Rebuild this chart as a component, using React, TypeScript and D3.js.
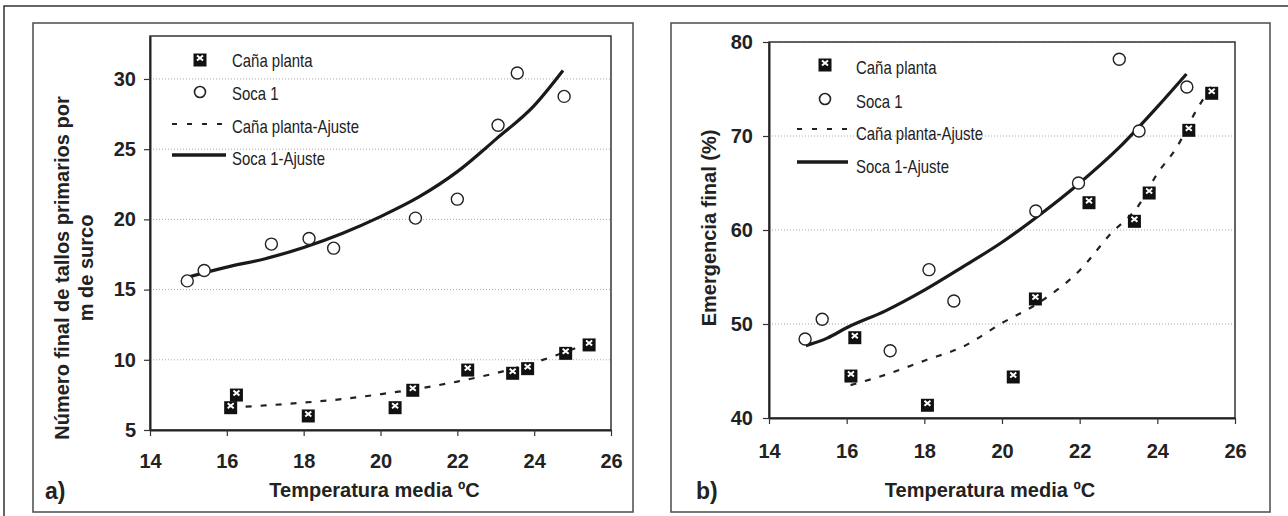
import React, { useEffect, useRef } from "react";
import * as d3 from "d3";

// a) primary stalks per metre of furrow
const caneTempA = [16.1, 16.25, 18.12, 20.38, 20.84, 22.27, 23.44, 23.83, 24.82, 25.43];
const caneStalks = [6.66, 7.56, 6.07, 6.66, 7.9, 9.34, 9.11, 9.44, 10.53, 11.13];
const socaTempA = [14.97, 15.41, 17.16, 18.14, 18.78, 20.91, 22.0, 23.06, 23.56, 24.78];
const socaStalks = [15.62, 16.36, 18.24, 18.64, 17.95, 20.09, 21.44, 26.7, 30.43, 28.76];
const caneFitTempA = [16.1, 17, 18, 19, 20, 21, 22, 23, 24, 25, 25.4];
const caneFitStalks = [6.6, 6.75, 6.95, 7.2, 7.55, 7.95, 8.45, 9.05, 9.8, 10.75, 11.2];
const socaFitTempA = [15, 16, 17, 18, 19, 20, 21, 22, 23, 24, 24.75];
const socaFitStalks = [15.9, 16.6, 17.2, 18.0, 19.0, 20.2, 21.6, 23.4, 25.7, 28.1, 30.6];

// b) final emergence (%)
const caneTempB = [16.21, 16.11, 18.08, 20.29, 20.86, 22.24, 23.41, 23.79, 24.81, 25.4];
const caneEmerg = [48.65, 44.57, 41.46, 44.47, 52.77, 63.01, 61.03, 64.04, 70.71, 74.65];
const socaTempB = [14.93, 15.37, 17.12, 18.12, 18.76, 20.87, 21.97, 23.02, 23.53, 24.76];
const socaEmerg = [48.4, 50.5, 47.16, 55.78, 52.45, 62.02, 65.0, 78.16, 70.53, 75.21];
const caneFitTempB = [16.1, 17, 18, 19, 20, 21, 22, 22.8, 23.5, 24, 24.5, 25, 25.4];
const caneFitEmerg = [43.5, 44.6, 46.1, 47.6, 50.1, 52.4, 55.7, 59.6, 62.5, 66.0, 68.8, 72.7, 75.3];
const socaFitTempB = [14.95, 15.5, 16, 17, 18, 19, 20, 21, 22, 23, 24, 24.75];
const socaFitEmerg = [47.7, 48.5, 49.6, 51.4, 53.6, 56.1, 58.7, 61.7, 65.0, 68.7, 73.1, 76.6];

const xTicks = [14, 16, 18, 20, 22, 24, 26];
const yTicksA = [5, 10, 15, 20, 25, 30];
const yTicksB = [40, 50, 60, 70, 80];
const legendLabels = ["Caña planta", "Soca 1", "Caña planta-Ajuste", "Soca 1-Ajuste"];

const FONT = "'Liberation Sans', Arial, sans-serif";

const zip = (a: number[], b: number[]) => a.map((v, i) => [v, b[i]] as [number, number]);

function drawSquare(g: any, cx: number, cy: number) {
  g.append("rect").attr("x", cx - 6.5).attr("y", cy - 5.5).attr("width", 13).attr("height", 13).attr("fill", "#111");
  g.append("path")
    .attr("d", `M${cx - 3},${cy - 3.5}L${cx + 3},${cy + 1.5}M${cx + 3},${cy - 3.5}L${cx - 3},${cy + 1.5}`)
    .attr("stroke", "#fff").attr("stroke-width", 2);
}

function drawPanel(svg: any, cfg: any) {
  const g = svg.append("g");
  const x = d3.scaleLinear().domain([14, 26]).range([cfg.left, cfg.right]);
  const y = d3.scaleLinear().domain(cfg.yDomain).range([cfg.bottom, cfg.top]);

  // panel box
  g.append("rect").attr("x", cfg.box[0]).attr("y", cfg.box[1]).attr("width", cfg.box[2] - cfg.box[0]).attr("height", cfg.box[3] - cfg.box[1])
    .attr("fill", "none").attr("stroke", "#555").attr("stroke-width", 1.6);

  // grid
  g.selectAll(".grid").data(cfg.yTicks.slice(1)).join("line")
    .attr("x1", cfg.left).attr("x2", cfg.right).attr("y1", (d: number) => y(d)).attr("y2", (d: number) => y(d))
    .attr("stroke", "#aaa").attr("stroke-width", 1).attr("stroke-dasharray", "1,2");

  // plot frame
  g.append("rect").attr("x", cfg.left).attr("y", cfg.top).attr("width", cfg.right - cfg.left).attr("height", cfg.bottom - cfg.top)
    .attr("fill", "none").attr("stroke", "#333").attr("stroke-width", 1.5);

  const xAxis = g.append("g").attr("transform", `translate(0,${cfg.bottom})`)
    .call(d3.axisBottom(x).tickValues(xTicks).tickSize(6).tickPadding(cfg.xPad).tickSizeOuter(0));
  const yAxis = g.append("g").attr("transform", `translate(${cfg.left},0)`)
    .call(d3.axisLeft(y).tickValues(cfg.yTicks).tickSize(6).tickPadding(cfg.yPad).tickSizeOuter(0));
  [xAxis, yAxis].forEach((a: any) => {
    a.select(".domain").attr("stroke", "#222").attr("stroke-width", 2);
    a.selectAll(".tick line").attr("stroke", "#333").attr("stroke-width", 1.2);
    a.selectAll(".tick text").attr("fill", "#222").style("font-family", FONT).style("font-weight", "bold").style("font-size", "20px");
  });

  // fit lines
  const line = d3.line().x((d: any) => x(d[0])).y((d: any) => y(d[1])).curve(d3.curveMonotoneX);
  g.append("path").attr("d", line(cfg.caneFit)).attr("fill", "none").attr("stroke", "#222")
    .attr("stroke-width", 2.2).attr("stroke-dasharray", "6,9");
  g.append("path").attr("d", line(cfg.socaFit)).attr("fill", "none").attr("stroke", "#1a1a1a").attr("stroke-width", 3.2);

  // points
  cfg.soca.forEach((d: [number, number]) => {
    g.append("circle").attr("cx", x(d[0])).attr("cy", y(d[1])).attr("r", 6)
      .attr("fill", "#fff").attr("stroke", "#222").attr("stroke-width", 1.4);
  });
  cfg.cane.forEach((d: [number, number]) => drawSquare(g, x(d[0]), y(d[1])));

  // legend
  const L = cfg.legend;
  drawSquare(g, L.mx, L.ys[0]);
  g.append("circle").attr("cx", L.mx).attr("cy", L.ys[1]).attr("r", 5.5).attr("fill", "#fff").attr("stroke", "#222").attr("stroke-width", 1.6);
  g.append("line").attr("x1", L.lx0).attr("x2", L.lx1).attr("y1", L.ys[2]).attr("y2", L.ys[2])
    .attr("stroke", "#222").attr("stroke-width", 2).attr("stroke-dasharray", "5,10");
  g.append("line").attr("x1", L.lx0).attr("x2", L.lx1).attr("y1", L.ys[3]).attr("y2", L.ys[3])
    .attr("stroke", "#1a1a1a").attr("stroke-width", 3.5);
  legendLabels.forEach((t, i) => {
    g.append("text").attr("transform", `translate(${L.tx},${L.ys[i] + L.dy[i]}) scale(0.83,1)`)
      .attr("dominant-baseline", "central")
      .style("font-family", FONT).style("font-size", "18px").attr("fill", "#222").text(t);
  });

  // axis titles
  g.append("text").attr("x", (cfg.left + cfg.right) / 2 + cfg.titleShift).attr("y", 497).attr("text-anchor", "middle")
    .style("font-family", FONT).style("font-weight", "bold").style("font-size", "20px").attr("fill", "#222")
    .text("Temperatura media ºC");
  g.append("text").attr("x", cfg.tag[0]).attr("y", 499)
    .style("font-family", FONT).style("font-weight", "bold").style("font-size", "23px").attr("fill", "#222").text(cfg.tag[1]);
  cfg.yTitle.forEach((t: string, i: number) => {
    g.append("text").attr("transform", `translate(${cfg.yTitleX[i]},${cfg.yTitleY}) rotate(-90)`).attr("text-anchor", "middle")
      .style("font-family", FONT).style("font-weight", "bold").style("font-size", "20px").attr("fill", "#222").text(t);
  });
}

export default function App() {
  const ref = useRef<SVGSVGElement>(null);
  useEffect(() => {
    const svg = d3.select(ref.current);
    svg.selectAll("*").remove();
    // outer frame
    svg.append("path").attr("d", "M4,516V6H1288").attr("fill", "none").attr("stroke", "#333").attr("stroke-width", 1.5);

    drawPanel(svg, {
      box: [33, 23, 633, 512], left: 150, right: 611, top: 36, bottom: 430,
      yDomain: [5, 33.06], yTicks: yTicksA, xPad: 18, yPad: 8,
      cane: zip(caneTempA, caneStalks), soca: zip(socaTempA, socaStalks),
      caneFit: zip(caneFitTempA, caneFitStalks), socaFit: zip(socaFitTempA, socaFitStalks),
      legend: { mx: 200, lx0: 172, lx1: 226, tx: 232, ys: [59, 92, 124, 155], dy: [2, 2, 3, 4] },
      titleShift: -6, tag: [45, "a)"],
      yTitle: ["Número final de tallos primarios por", "m de surco"], yTitleX: [69, 93], yTitleY: 268,
    });
    drawPanel(svg, {
      box: [671, 23, 1270, 512], left: 769, right: 1235, top: 42, bottom: 418,
      yDomain: [40, 80], yTicks: yTicksB, xPad: 20, yPad: 10,
      cane: zip(caneTempB, caneEmerg), soca: zip(socaTempB, socaEmerg),
      caneFit: zip(caneFitTempB, caneFitEmerg), socaFit: zip(socaFitTempB, socaFitEmerg),
      legend: { mx: 825, lx0: 797, lx1: 848, tx: 856, ys: [64, 99, 129, 162], dy: [4, 3, 5, 5] },
      titleShift: -12, tag: [696, "b)"],
      yTitle: ["Emergencia final (%)"], yTitleX: [716], yTitleY: 228,
    });
  }, []);
  return (
    <svg ref={ref} width={1288} height={516} style={{ position: "absolute", left: 0, top: 0, background: "#fff" }} />
  );
}
